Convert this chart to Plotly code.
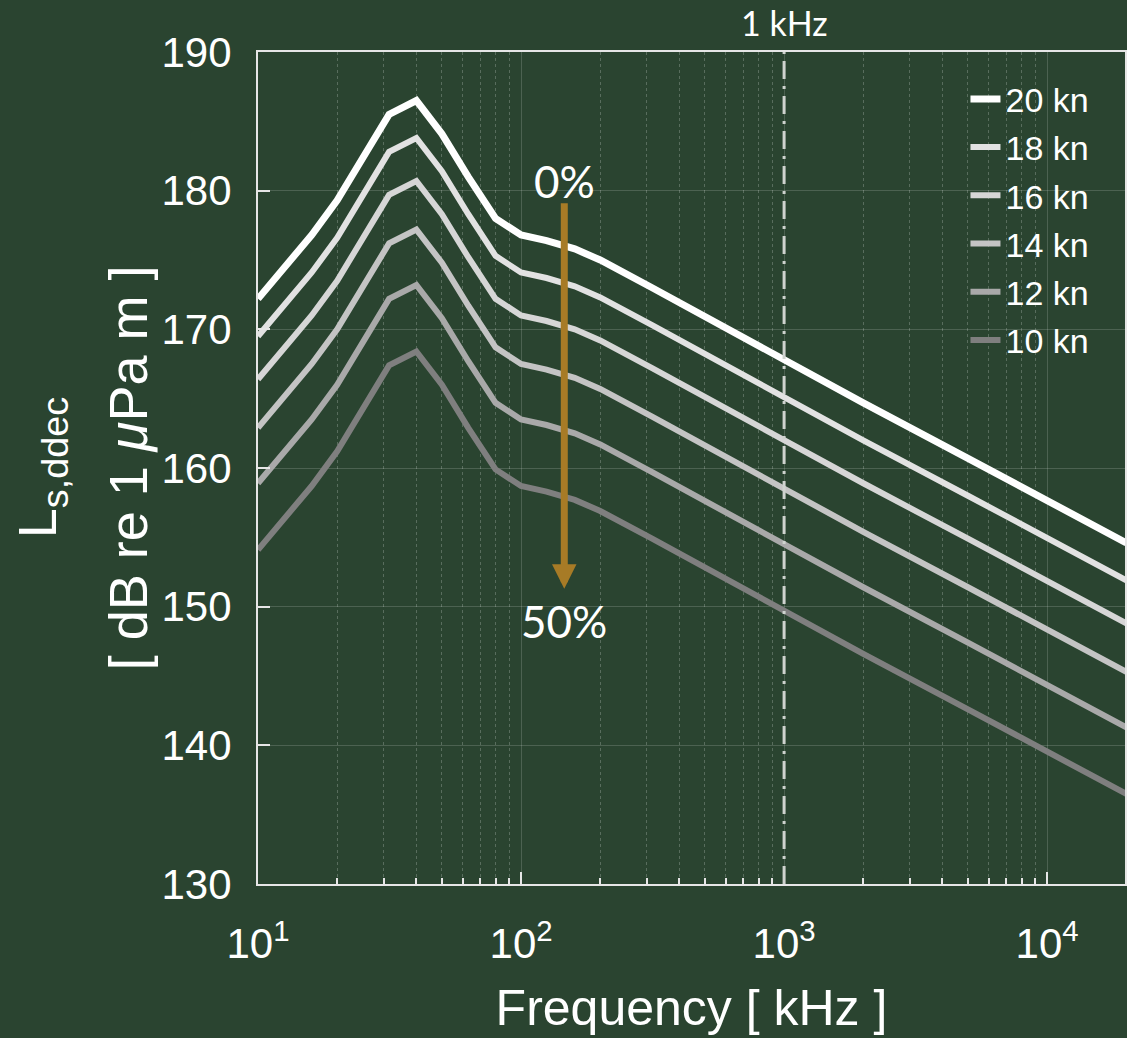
import numpy as np
import plotly.graph_objects as go

freq = [10, 12.5, 16, 20, 25, 31.5, 40, 50, 63, 80, 100, 125, 160, 200, 315, 500,
        1000, 2000, 5000, 10000, 20000]

kn20 = [172.2, 174.4, 176.8, 179.3, 182.3, 185.5, 186.5, 184.1, 181.0, 178.0, 176.8,
        176.4, 175.8, 175.0, 173.0, 170.9, 167.8, 164.7, 160.7, 157.6, 154.6]
kn18 = [169.5, 171.7, 174.1, 176.6, 179.6, 182.8, 183.8, 181.4, 178.3, 175.3, 174.1,
        173.7, 173.1, 172.3, 170.3, 168.2, 165.1, 162.0, 158.0, 154.9, 151.9]
kn16 = [166.4, 168.6, 171.0, 173.5, 176.5, 179.7, 180.7, 178.3, 175.2, 172.2, 171.0,
        170.6, 170.0, 169.2, 167.2, 165.1, 162.0, 158.9, 154.9, 151.8, 148.8]
kn14 = [162.9, 165.1, 167.5, 170.0, 173.0, 176.2, 177.2, 174.8, 171.7, 168.7, 167.5,
        167.1, 166.5, 165.7, 163.7, 161.6, 158.5, 155.4, 151.4, 148.3, 145.3]
kn12 = [158.9, 161.1, 163.5, 166.0, 169.0, 172.2, 173.2, 170.8, 167.7, 164.7, 163.5,
        163.1, 162.5, 161.7, 159.7, 157.6, 154.5, 151.4, 147.4, 144.3, 141.3]
kn10 = [154.1, 156.3, 158.7, 161.2, 164.2, 167.4, 168.4, 166.0, 162.9, 159.9, 158.7,
        158.3, 157.7, 156.9, 154.9, 152.8, 149.7, 146.6, 142.6, 139.5, 136.5]

series_names = ["20 kn", "18 kn", "16 kn", "14 kn", "12 kn", "10 kn"]
series_vals = [kn20, kn18, kn16, kn14, kn12, kn10]
series_colors = ["#ffffff", "#e2e2e2", "#d6d6d6", "#c4c4c4", "#a9a9a9", "#7f7f7f"]
series_widths = [7, 6, 6, 6, 6, 6]

x_tickvals = [10, 100, 1000, 10000]
x_ticktext = ["10<sup>1</sup>", "10<sup>2</sup>", "10<sup>3</sup>", "10<sup>4</sup>"]
x_minor_vals = [m * d for d in (10, 100, 1000, 10000) for m in range(2, 10) if m * d <= 20000]
y_tickvals = [130, 140, 150, 160, 170, 180, 190]

marker_freq = 1000
arrow_freq = 146
arrow_top, arrow_bottom = 179.2, 151.3

BG = "#2a4430"
FONT = "Liberation Sans, Arial, sans-serif"
FONT2 = "Lato, Open Sans, sans-serif"

fig = go.Figure()
for name, vals, col, w in zip(series_names, series_vals, series_colors, series_widths):
    fig.add_trace(go.Scatter(x=freq, y=vals, mode="lines", name=name,
                             line=dict(color=col, width=w), legendgroup=name))

fig.add_vline(x=marker_freq, line=dict(color="#cfd3cf", width=3, dash="18px,7px,3px,7px"))

fig.add_annotation(x=np.log10(arrow_freq), y=arrow_bottom, ax=np.log10(arrow_freq), ay=arrow_top,
                   xref="x", yref="y", axref="x", ayref="y", text="", showarrow=True,
                   arrowhead=2, arrowwidth=7, arrowsize=0.7, arrowcolor="#a77b26")
fig.add_annotation(x=np.log10(arrow_freq), y=180.7, xref="x", yref="y", text="0%",
                   showarrow=False, font=dict(family=FONT2, size=44, color="white"))
fig.add_annotation(x=np.log10(arrow_freq), y=149.0, xref="x", yref="y", text="50%",
                   showarrow=False, font=dict(family=FONT2, size=44, color="white"))
fig.add_annotation(x=np.log10(marker_freq), y=1.036, xref="x", yref="paper", text="1 kHz",
                   yanchor="middle", xanchor="center",
                   showarrow=False, font=dict(family=FONT2, size=34, color="white"))

fig.add_annotation(x=-0.250, y=0.5, xref="paper", yref="paper", text="L<sub>s,ddec</sub>",
                   textangle=-90, showarrow=False, xanchor="center", yanchor="middle",
                   font=dict(family=FONT, size=54, color="white"))
fig.add_annotation(x=-0.1496, y=0.5, xref="paper", yref="paper",
                   text="[ dB re 1 <i>μ</i>Pa m ]",
                   textangle=-90, showarrow=False, xanchor="center", yanchor="middle",
                   font=dict(family=FONT, size=54, color="white"))

axis_common = dict(showline=True, linecolor="#e6e6e6", linewidth=2, mirror=True,
                   ticks="inside", tickcolor="#e6e6e6", tickwidth=1.5,
                   gridcolor="rgba(255,255,255,0.16)", gridwidth=1, zeroline=False,
                   tickfont=dict(family=FONT, size=42, color="white"))

fig.update_xaxes(type="log", range=[1, 4.296], tickvals=x_tickvals, ticktext=x_ticktext,
                 ticklen=12, ticklabelstandoff=22,
                 minor=dict(tickvals=x_minor_vals, ticks="inside", ticklen=6, tickcolor="#e6e6e6",
                            showgrid=True, gridcolor="rgba(255,255,255,0.22)", griddash="dot",
                            gridwidth=1),
                 title=dict(text="Frequency [ kHz ]", font=dict(family=FONT, size=50, color="white"),
                            standoff=24),
                 **axis_common)
fig.update_yaxes(range=[130, 190], tickvals=y_tickvals, ticklen=12, ticklabelstandoff=16,
                 **axis_common)

fig.update_layout(
    width=1127, height=1038,
    margin=dict(l=258, r=0, t=52, b=154),
    paper_bgcolor=BG, plot_bgcolor=BG,
    showlegend=True,
    legend=dict(x=0.816, y=0.978, xanchor="left", yanchor="top", bgcolor="rgba(0,0,0,0)",
                font=dict(family=FONT, size=34, color="white"), tracegroupgap=1,
                itemwidth=30),
)

fig.write_html("out.html", config={"displayModeBar": False},
               post_script="document.body.style.margin='0';document.body.style.background='#2a4430';")
